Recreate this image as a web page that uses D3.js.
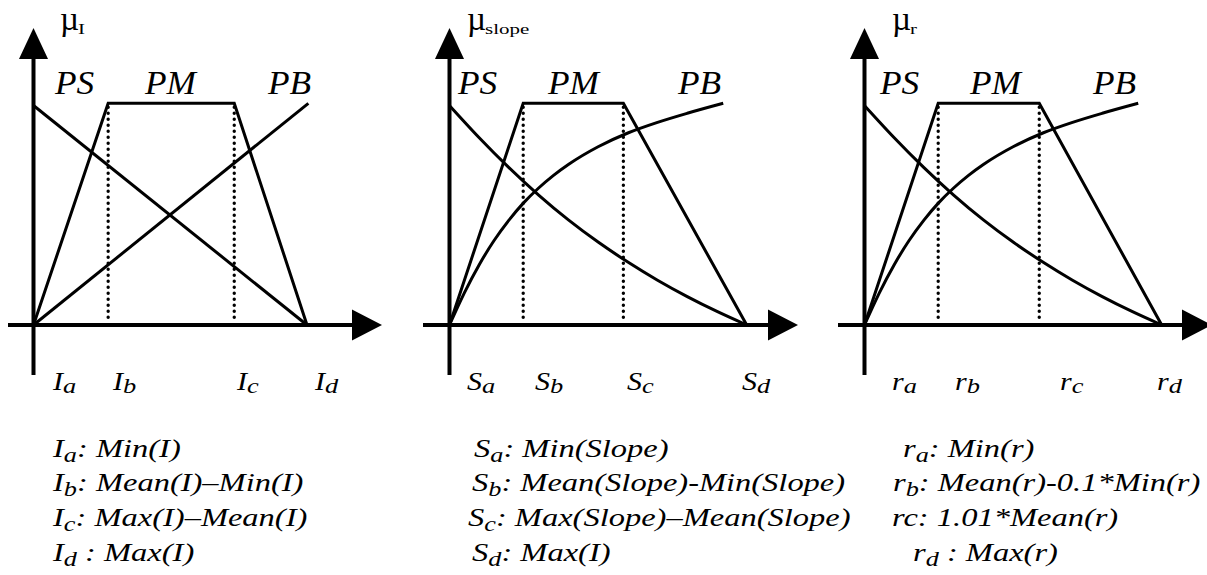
<!DOCTYPE html>
<html>
<head>
<meta charset="utf-8">
<script src="https://cdn.jsdelivr.net/npm/d3@7"></script>
<style>
  body { margin: 0; background: #fff; }
</style>
</head>
<body>
<div id="chart"></div>
<script>
// membership function labels
const muSubs = ["I", "slope", "r"];
const tickBase = ["I", "S", "r"];
const tickSubs = ["a", "b", "c", "d"];
const termLabels = ["PS", "PM", "PB"];

// break points b and c, as share of the a..d span
const breakB = [0.273, 0.248, 0.248];
const breakC = [0.734, 0.585, 0.588];

// PS / PB curves: [share of a..d span, membership]
const psLine = [[0, 0.99], [1, 0]];
const pbLine = [[0, 0], [1.005, 1]];
const psCurve = [[0, 0.99], [0.1, 0.845], [0.2, 0.71], [0.3, 0.586], [0.4, 0.474], [0.5, 0.374],
                 [0.6, 0.284], [0.7, 0.202], [0.8, 0.128], [0.9, 0.061], [1, 0]];
const pbCurve = [[0, 0], [0.05, 0.145], [0.1, 0.272], [0.15, 0.381], [0.2, 0.473], [0.25, 0.552],
                 [0.3, 0.618], [0.35, 0.675], [0.4, 0.724], [0.5, 0.804], [0.6, 0.866],
                 [0.7, 0.914], [0.8, 0.955], [0.921, 1.0]];
const psSeries = [psLine, psCurve, psCurve];
const pbSeries = [pbLine, pbCurve, pbCurve];

// definitions below each panel: [letter, subscript, rest]
const defsI = [["I", "a", ": Min(I)"], ["I", "b", ": Mean(I)\u2013Min(I)"],
               ["I", "c", ": Max(I)\u2013Mean(I)"], ["I", "d", " : Max(I)"]];
const defsS = [["S", "a", ": Min(Slope)"], ["S", "b", ": Mean(Slope)-Min(Slope)"],
               ["S", "c", ": Max(Slope)\u2013Mean(Slope)"], ["S", "d", ": Max(I)"]];
const defsR = [["r", "a", ": Min(r)"], ["r", "b", ": Mean(r)-0.1*Min(r)"],
               ["rc: 1.01*Mean(r)", "", ""], ["r", "d", " : Max(r)"]];
const defs = [defsI, defsS, defsR];

// page layout
const W = 1207, H = 575;
const yZero = 325, yOne = 103.3;
const layout = [
  { x0: 33.5, xd: 307, axL: 8, axR: 382, muX: 60, termX: [55, 145, 268],
    tickX: [53, 113, 237, 315], defX: [53, 53, 53, 53] },
  { x0: 449.5, xd: 746.7, axL: 423, axR: 798, muX: 467, termX: [458, 548, 678],
    tickX: [467, 535, 627, 742], defX: [474, 472, 468, 472] },
  { x0: 864.5, xd: 1161.7, axL: 838, axR: 1212, muX: 892, termX: [880, 970, 1093],
    tickX: [892, 955, 1060, 1157], defX: [903, 893, 892, 913] }
];
const defRows = [457, 491, 526, 561];

const svg = d3.select("#chart").append("svg")
  .attr("width", W)
  .attr("height", H)
  .attr("font-family", "'Liberation Serif', Tinos, 'Times New Roman', Times, 'Nimbus Roman', FreeSerif, serif");

svg.append("rect").attr("width", W).attr("height", H).attr("fill", "#fff");

const y = d3.scaleLinear().domain([0, 1]).range([yZero, yOne]);

layout.forEach((p, i) => {
  const x = d3.scaleLinear().domain([0, 1]).range([p.x0, p.xd]);
  const line = d3.line().x(d => x(d[0])).y(d => y(d[1])).curve(d3.curveMonotoneX);
  const g = svg.append("g");

  // axes with arrow heads
  g.append("line")
    .attr("x1", p.axL).attr("x2", p.axR - 28)
    .attr("y1", yZero).attr("y2", yZero)
    .attr("stroke", "#000").attr("stroke-width", 4);
  g.append("path")
    .attr("d", `M${p.axR},${yZero} L${p.axR - 30},${yZero - 15.5} L${p.axR - 30},${yZero + 15.5} Z`)
    .attr("fill", "#000");
  g.append("line")
    .attr("x1", p.x0).attr("x2", p.x0)
    .attr("y1", 375).attr("y2", 57)
    .attr("stroke", "#000").attr("stroke-width", 4);
  g.append("path")
    .attr("d", `M${p.x0},28 L${p.x0 - 14.5},59 L${p.x0 + 14.5},59 Z`)
    .attr("fill", "#000");

  // dotted guides at b and c
  [breakB[i], breakC[i]].forEach(v => {
    g.append("line")
      .attr("x1", x(v)).attr("x2", x(v))
      .attr("y1", y(1) + 4).attr("y2", y(0) - 3)
      .attr("stroke", "#000").attr("stroke-width", 3.4)
      .attr("stroke-linecap", "round")
      .attr("stroke-dasharray", "0,6");
  });

  // PM trapezoid
  const pm = [[0, 0], [breakB[i], 1], [breakC[i], 1], [1, 0]];
  g.append("path")
    .attr("d", d3.line().x(d => x(d[0])).y(d => y(d[1]))(pm))
    .attr("fill", "none").attr("stroke", "#000").attr("stroke-width", 3);

  // PS and PB
  [psSeries[i], pbSeries[i]].forEach(s => {
    g.append("path")
      .attr("d", line(s))
      .attr("fill", "none").attr("stroke", "#000").attr("stroke-width", 3);
  });

  // mu label
  g.append("text")
    .attr("x", p.muX).attr("y", 30)
    .attr("font-size", 33)
    .text("\u00b5");
  g.append("text")
    .attr("transform", `translate(${p.muX + 18},34) scale(1.4,1)`)
    .attr("font-size", 15)
    .text(muSubs[i]);

  // PS / PM / PB labels
  termLabels.forEach((t, k) => {
    g.append("text")
      .attr("transform", `translate(${p.termX[k]},94) scale(1.07,1)`)
      .attr("font-size", 33)
      .attr("font-style", "italic")
      .text(t);
  });

  // tick labels under x axis
  tickSubs.forEach((s, k) => {
    const t = g.append("text")
      .attr("transform", `translate(${p.tickX[k]},390) scale(1.2,1)`)
      .attr("font-size", 25)
      .attr("font-style", "italic");
    t.append("tspan").text(tickBase[i]);
    t.append("tspan").attr("dy", 3).attr("font-size", 22).text(s);
  });

  // definitions
  defs[i].forEach((d, k) => {
    const t = svg.append("text")
      .attr("transform", `translate(${p.defX[k]},${defRows[k]}) scale(1.25,1)`)
      .attr("font-size", 26)
      .attr("font-style", "italic");
    t.append("tspan").text(d[0]);
    if (d[1]) {
      t.append("tspan").attr("dy", 5).attr("font-size", 21).text(d[1]);
      t.append("tspan").attr("dy", -5).text(d[2]);
    }
  });
});
</script>
</body>
</html>
